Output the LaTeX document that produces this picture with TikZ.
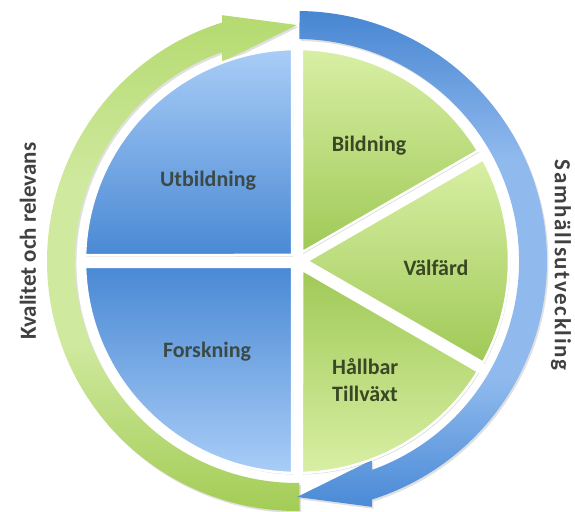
\documentclass[tikz,border=0pt]{standalone}
\usepackage{fontspec}
\setmainfont{Carlito}
\definecolor{bluelight}{HTML}{A9CDF7}
\definecolor{bluedark}{HTML}{4A89D4}
\definecolor{greenlight}{HTML}{D8EFA4}
\definecolor{greendark}{HTML}{A0C957}
\definecolor{btxt}{HTML}{3B4A47}
\definecolor{gtxt}{HTML}{3A4724}
\definecolor{stxt}{HTML}{404040}
\definecolor{garTop}{HTML}{B5DA70}
\definecolor{garMid}{HTML}{CFE99E}
\definecolor{garBot}{HTML}{A3CC55}
\definecolor{barTop}{HTML}{4886D2}
\definecolor{barMid}{HTML}{90BAEE}
\definecolor{barBot}{HTML}{4A8AD6}
\pgfdeclareverticalshading{bluering}{100bp}{color(0bp)=(barBot); color(25bp)=(barBot); color(38bp)=(barMid); color(60bp)=(barMid); color(75bp)=(barTop); color(100bp)=(barTop)}
\pgfdeclareverticalshading{greenring}{100bp}{color(0bp)=(garBot); color(25bp)=(garBot); color(42bp)=(garMid); color(58bp)=(garMid); color(75bp)=(garTop); color(100bp)=(garTop)}
\tikzset{
  piece/.style={draw=white, line width=2.5pt, line join=round},
  pshadow/.style={fill=black, opacity=0.16, shift={(1.2,-1.6)}},
  ashadow/.style={fill=black, opacity=0.12, shift={(1.5,-2)}},
  lbl/.style={font=\bfseries\fontsize{22}{26}\selectfont, inner sep=0pt},
  side/.style={font=\bfseries\fontsize{23}{27}\selectfont, text=stxt, inner sep=0pt}
}
\def\pUtb{(-5,6) -- (91.35:212) arc[start angle=91.35,end angle=178.38,radius=212] -- cycle}
\def\pFor{(-5,-6) -- (268.65:212) arc[start angle=268.65,end angle=181.62,radius=212] -- cycle}
\def\pBil{(5,8.66) -- (31.35:212) arc[start angle=31.35,end angle=88.65,radius=212] -- cycle}
\def\pVal{(10,0) -- (-28.65:212) arc[start angle=-28.65,end angle=28.65,radius=212] -- cycle}
\def\pHal{(5,-8.66) -- (-31.35:212) arc[start angle=-31.35,end angle=-88.65,radius=212] -- cycle}
\def\pGreen{(270.6:222) -- (270.6:250) arc[start angle=270.6,end angle=107.46,radius=250] -- (106.95:257) -- (90:236) -- (110.6:212.7) -- (109.75:222) arc[start angle=109.75,end angle=270.6,radius=222] -- cycle}
\def\pBlue{(89.4:222) -- (89.4:250) arc[start angle=89.4,end angle=-72.54,radius=250] -- (-73.05:257) -- (-90:236) -- (-69.4:212.7) -- (-70.25:222) arc[start angle=-70.25,end angle=89.4,radius=222] -- cycle}
\begin{document}
\begin{tikzpicture}[x=1pt,y=1pt]
\useasboundingbox (0,0) rectangle (575,511);
\begin{scope}[shift={(297,250)}]
  % arrows
  \fill[ashadow] \pGreen;
  \fill[ashadow] \pBlue;
  \shade[shading=greenring] \pGreen;
  \shade[shading=bluering] \pBlue;
  % pie shadows
  \fill[pshadow] \pUtb;
  \fill[pshadow] \pFor;
  \fill[pshadow] \pBil;
  \fill[pshadow] \pVal;
  \fill[pshadow] \pHal;
  % pie pieces
  \shade[piece, top color=bluelight, bottom color=bluedark] \pUtb;
  \shade[piece, top color=bluedark, bottom color=bluelight] \pFor;
  \shade[piece, top color=greenlight, bottom color=greendark] \pBil;
  \shade[piece, top color=greenlight, bottom color=greendark] \pVal;
  \shade[piece, top color=greendark, bottom color=greenlight] \pHal;
  % labels
  \node[lbl, text=btxt] (utb) at (-89,80) {Utbildning};
  \node[lbl, text=btxt] (for) at (-90,-91) {Forskning};
  \node[lbl, text=gtxt] (bil) at (72,115) {Bildning};
  \node[lbl, text=gtxt] (val) at (139,-7) {Välfärd};
  \node[lbl, text=gtxt, anchor=west, align=left] (hal) at (35,-119) {Hållbar\\[1pt]Tillväxt};
  \node[side, rotate=90] (kval) at (-269,20) {Kvalitet och relevans};
  \node[side, rotate=-90] (samh) at (264,-4) {\addfontfeature{LetterSpace=7}Samhällsutveckling};
\end{scope}
\end{tikzpicture}
\end{document}
